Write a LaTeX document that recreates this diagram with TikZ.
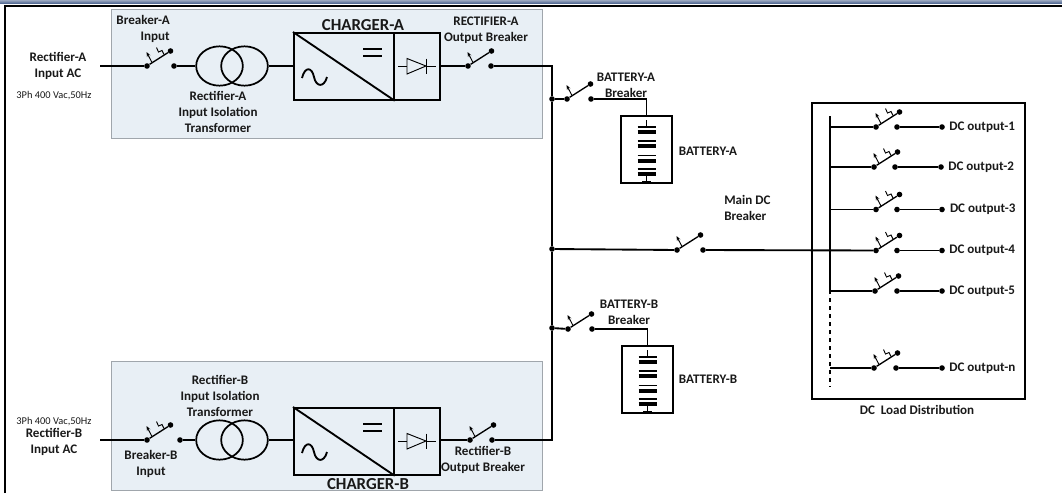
\documentclass[tikz,border=0pt]{standalone}
\usepackage{fontspec}
\setmainfont{Carlito}
\usepackage{xcolor}
\usetikzlibrary{positioning, arrows.meta, shapes.geometric}
\definecolor{panelblue}{RGB}{232, 239, 245}
\definecolor{panelgray}{RGB}{160, 166, 172}
\definecolor{bandblue}{RGB}{88, 110, 150}
\definecolor{textdark}{RGB}{25, 25, 25}
\tikzset{
    wire/.style={
        line width=1.4pt, black
    },
    thinwire/.style={
        line width=0.7pt, black
    },
    framebox/.style={
        draw=black, line width=1.3pt, inner sep=0pt, anchor=north west
    },
    panelbox/.style={
        draw=panelgray, fill=panelblue, line width=0.7pt, inner sep=0pt,
        minimum width=323pt, minimum height=97pt
    },
    dot/.style={
        circle, fill=black, minimum size=4.2pt, inner sep=0pt
    },
    coil/.style={
        ellipse, draw=black, line width=1.3pt, inner sep=0pt,
        minimum width=35pt, minimum height=29.5pt
    },
    lbl/.style={
        font=\bfseries\fontsize{9.8}{12}\selectfont, text=textdark, align=center, inner sep=0pt
    },
    titlelbl/.style={
        font=\bfseries\fontsize{12.6}{12}\selectfont, text=textdark, inner sep=0pt
    },
    smalllbl/.style={
        font=\fontsize{7.8}{8}\selectfont, text=textdark, inner sep=0pt
    },
    % Cong tac: #1 = khoang cach giua hai cham
    pics/breaker/.style={
        code={
            \node[dot] (-in) at (0,0) {};
            \node[dot] (-out) at (#1,0) {};
            \node[dot] (-tip) at (23.5,-15) {};
            \draw[wire, line width=1pt] (-in) -- (-tip);
            \draw[thinwire, -{Stealth[length=3.5pt, width=2.8pt]}] (5,-3.5) -- (-0.5,-14);
        }
    },
    pics/tripbreaker/.style={
        code={
            \pic {breaker=#1};
            \draw[thinwire] (17,-11.5) -- (15,-15.5) -- (11.5,-14) -- (9.5,-18.5);
        }
    },
    % Khoi chinh luu: hinh chu nhat, duong cheo, song sin, diode
    pics/charger/.style={
        code={
            \node[framebox, minimum width=75pt, minimum height=50.25pt] (-ac) at (0,0) {};
            \node[framebox, minimum width=34.5pt, minimum height=50.25pt] (-dc) at (100,0) {};
            \draw[wire] (-ac.north west) -- (-ac.south east);
            \draw[wire, line width=1.6pt] (70,17) -- (89,17);
            \draw[wire, line width=1.6pt] (70,24) -- (89,24);
            \draw[wire] (9,46) .. controls (12,34) and (19,35) .. (21,45)
                .. controls (23,55) and (31,56) .. (34,45);
            \draw[thinwire] (105,34) -- (114,34);
            \draw[thinwire] (114,26.5) -- (114,42) -- (133,34) -- cycle;
            \draw[thinwire] (133,26.5) -- (133,42);
            \draw[thinwire] (133,34) -- (143,34);
        }
    },
    % Ac quy: khung va cac ngan
    pics/battery/.style={
        code={
            \node[framebox, anchor=north, minimum width=38.25pt, minimum height=50.25pt] (-box) at (0,0) {};
            \draw[wire] (0,5) -- (0,12);
            \draw[wire] (-9,12) -- (9,12);
            \draw[wire, line width=3pt] (-9,17) -- (9,17);
            \draw[wire] (-9,26) -- (9,26);
            \draw[wire, line width=3pt] (-9,31) -- (9,31);
            \draw[wire] (-9,40.5) -- (9,40.5);
            \draw[wire, line width=3pt] (-9,46) -- (9,46);
            \draw[wire] (-9,54) -- (9,54);
            \draw[wire, line width=3pt] (-9,59) -- (9,59);
            \draw[wire] (0,59) -- (0,66);
            \draw[wire, line width=2pt] (-4.5,67.5) -- (4.5,67.5);
        }
    }
}

\begin{document}
\begin{tikzpicture}[x=0.75pt, y=-0.75pt]
        \useasboundingbox (0,0) rectangle (1062,493);

        % ==========================================
        % KHUNG NGOAI
        % ==========================================
        \shade[top color=bandblue!60, bottom color=bandblue] (0,0) rectangle (1062,3);
        \draw[line width=2.2pt] (5,493) -- (5,6) -- (1062,6);

        % ==========================================
        % KHOI A (TREN)
        % ==========================================
        \node[panelbox, anchor=north west] (panelA) at (111,8.5) {};
        \coordinate (acA) at (100,66);
        \pic (brkAin) at (147,66) {tripbreaker=27};
        \node[coil] (txA1) at (219.5,66) {};
        \node[coil] (txA2) at (244.5,66) {};
        \pic (chgA) at (293,32) {charger};
        \pic (brkAout) at (468,66) {breaker=23};

        \draw[wire] (acA) -- (brkAin-in);
        \draw[wire] (brkAin-out) -- (txA1);
        \draw[wire] (txA2) -- (chgA-ac.west |- txA2);
        \draw[wire] (chgA-dc.east |- brkAout-in) -- (brkAout-in);

        \node[lbl] (lblAac) at (58,66) {Rectifier-A\\Input AC};
        \node[smalllbl] (lblAph) at (54,96) {3Ph 400 Vac,50Hz};
        \node[lbl, align=right, anchor=east] (lblAin) at (170,29) {Breaker-A\\Input};
        \node[lbl] (lblAtx) at (218,112) {Rectifier-A\\Input Isolation\\Transformer};
        \node[titlelbl] (lblAchg) at (363,25) {CHARGER-A};
        \node[lbl] (lblAout) at (486,30) {RECTIFIER-A\\Output Breaker};

        % ==========================================
        % KHOI B (DUOI)
        % ==========================================
        \node[panelbox, anchor=north west] (panelB) at (111,361) {};
        \coordinate (acB) at (100,440);
        \pic (brkBin) at (147,440) {tripbreaker=33};
        \node[coil] (txB1) at (219.5,440) {};
        \node[coil] (txB2) at (244.5,440) {};
        \pic (chgB) at (293,407) {charger};
        \pic (brkBout) at (470,440) {breaker=22};

        \draw[wire] (acB) -- (brkBin-in);
        \draw[wire] (brkBin-out) -- (txB1);
        \draw[wire] (txB2) -- (chgB-ac.west |- txB2);
        \draw[wire] (chgB-dc.east |- brkBout-in) -- (brkBout-in);

        \node[smalllbl] (lblBph) at (54,422) {3Ph 400 Vac,50Hz};
        \node[lbl] (lblBac) at (54,441.5) {Rectifier-B\\Input AC};
        \node[lbl] (lblBin) at (151,464) {Breaker-B\\Input};
        \node[lbl] (lblBtx) at (220,396) {Rectifier-B\\Input Isolation\\Transformer};
        \node[titlelbl] (lblBchg) at (368,484) {CHARGER-B};
        \node[lbl] (lblBout) at (483,460) {Rectifier-B\\Output Breaker};

        % ==========================================
        % THANH CAI DC VA AC QUY
        % ==========================================
        \node[dot] (busA) at (552,99) {};
        \node[dot] (busMain) at (552,249) {};
        \node[dot] (busB) at (552,328) {};

        \draw[wire] (brkAout-out) -| (busA);
        \draw[wire] (brkBout-out) -| (busB);
        \draw[wire] (busA) -- (busMain);
        \draw[wire] (busMain) -- (busB);

        \pic (brkBatA) at (567,99) {breaker=24};
        \pic (batA) at (646.5,115) {battery};
        \draw[wire] (busA) -- (brkBatA-in);
        \draw[wire] (brkBatA-out) -| (batA-box.north);
        \node[lbl] (lblBrkBatA) at (626,85) {BATTERY-A\\Breaker};
        \node[lbl] (lblBatA) at (708,151) {BATTERY-A};

        \pic (brkBatB) at (568,329) {breaker=24};
        \pic (batB) at (647.5,345) {battery};
        \draw[wire] (busB) -- (brkBatB-in);
        \draw[wire] (brkBatB-out) -| (batB-box.north);
        \node[lbl] (lblBrkBatB) at (629,312) {BATTERY-B\\Breaker};
        \node[lbl] (lblBatB) at (708,379) {BATTERY-B};

        % ==========================================
        % TU PHAN PHOI DC
        % ==========================================
        \node[framebox, minimum width=159.75pt, minimum height=222pt] (dcBox) at (811,102) {};
        \node[lbl] (lblDc) at (917,410) {DC\ \ Load Distribution};
        \coordinate (dcTop) at (830,116);
        \coordinate (dcMid) at (830,290);
        \coordinate (dcEnd) at (830,387);
        \draw[wire] (dcTop) -- (dcMid);
        \draw[wire, dashed, line width=1pt] (dcMid) -- (dcEnd);

        \pic (brkMain) at (677,250) {breaker=26};
        \draw[wire] (busMain) -- (brkMain-in);
        \node[lbl, align=left, anchor=west] (lblMain) at (724,208) {Main DC\\Breaker};

        % Dau ra 1
        \pic (dc1) at (876,127) {tripbreaker=21};
        \node[dot] (dc1end) at (942,127) {};
        \node[lbl, right=3pt of dc1end] (lblDc1) {DC output-1};
        \draw[wire] (dcTop |- dc1-in) -- (dc1-in);
        \draw[wire] (dc1-out) -- (dc1end);

        % Dau ra 2
        \pic (dc2) at (874,167) {tripbreaker=21};
        \node[dot] (dc2end) at (941,167) {};
        \node[lbl, right=3pt of dc2end] (lblDc2) {DC output-2};
        \draw[wire] (dcTop |- dc2-in) -- (dc2-in);
        \draw[wire] (dc2-out) -- (dc2end);

        % Dau ra 3
        \pic (dc3) at (876,209.5) {tripbreaker=21};
        \node[dot] (dc3end) at (942,209.5) {};
        \node[lbl, right=3.5pt of dc3end] (lblDc3) {DC output-3};
        \draw[wire] (dcTop |- dc3-in) -- (dc3-in);
        \draw[wire] (dc3-out) -- (dc3end);

        % Dau ra 4, cung la dau vao tu Main DC
        \pic (dc4) at (876,250.5) {tripbreaker=21};
        \node[dot] (dc4end) at (942,250.5) {};
        \node[lbl, right=3pt of dc4end] (lblDc4) {DC output-4};
        \draw[wire] (brkMain-out) -- (dc4-in);
        \draw[wire] (dc4-out) -- (dc4end);

        % Dau ra 5
        \pic (dc5) at (875,291) {tripbreaker=22};
        \node[dot] (dc5end) at (942,291) {};
        \node[lbl, right=3pt of dc5end] (lblDc5) {DC output-5};
        \draw[wire] (dcTop |- dc5-in) -- (dc5-in);
        \draw[wire] (dc5-out) -- (dc5end);

        % Dau ra n
        \pic (dcn) at (874,368) {tripbreaker=22};
        \node[dot] (dcnend) at (942,368) {};
        \node[lbl, right=3pt of dcnend] (lblDcn) {DC output-n};
        \draw[wire] (dcTop |- dcn-in) -- (dcn-in);
        \draw[wire] (dcn-out) -- (dcnend);

    \end{tikzpicture}
\end{document}
